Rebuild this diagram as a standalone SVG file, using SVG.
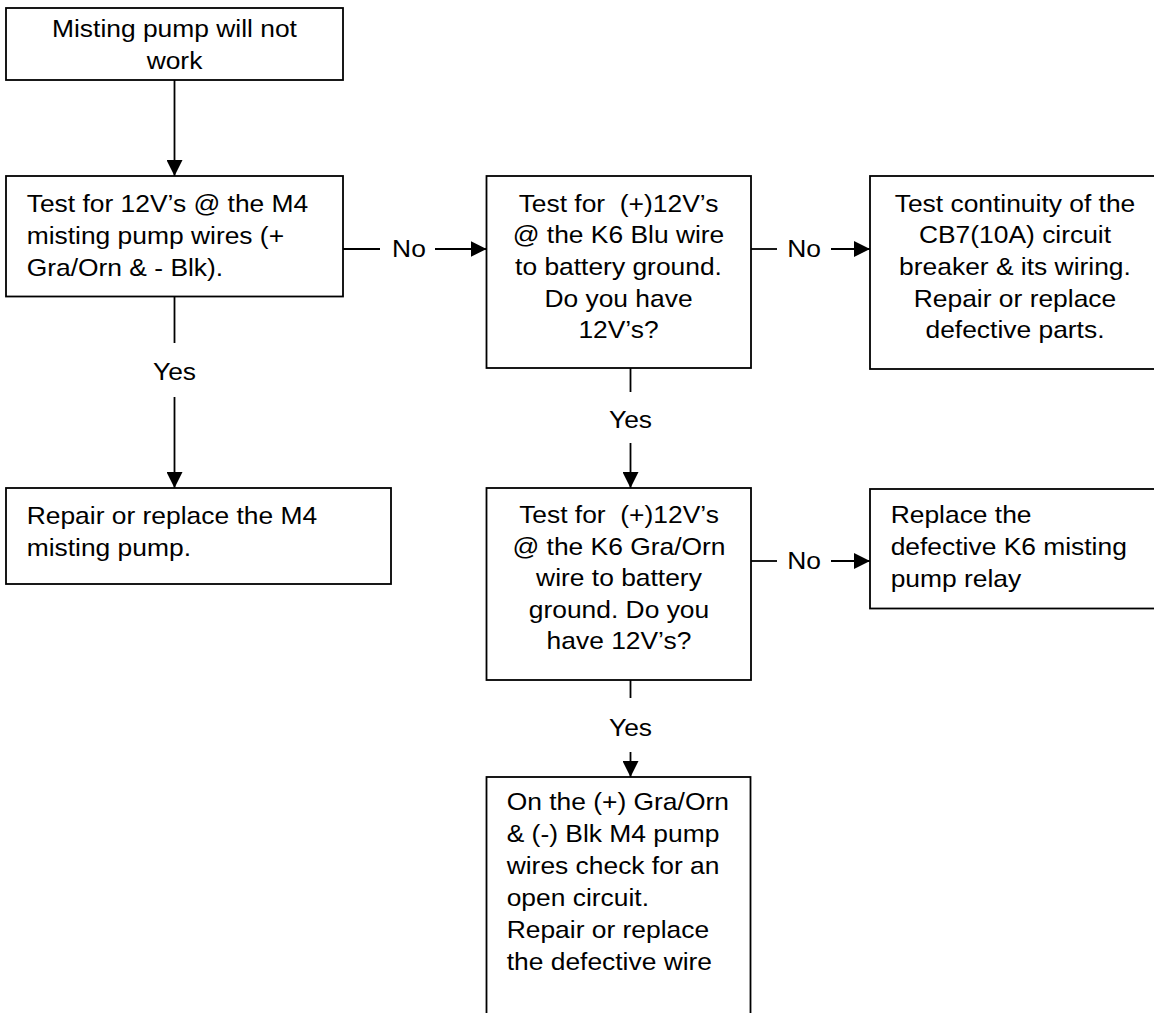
<svg xmlns="http://www.w3.org/2000/svg" width="1154" height="1013" viewBox="0 0 1154 1013">
<defs>
<marker id="arr" viewBox="0 0 16 16" refX="16" refY="8" markerWidth="16" markerHeight="16" markerUnits="userSpaceOnUse" orient="auto">
<path d="M0,0 L16,8 L0,16 Z" fill="#000"/>
</marker>
<style>
.box{fill:#fff;stroke:#000;stroke-width:1.8}
.ln{fill:none;stroke:#000;stroke-width:1.8}
text{font-family:"Liberation Sans",Arial,sans-serif;font-size:24px;fill:#000}
.c{text-anchor:middle}
</style>
</defs>
<rect width="1154" height="1013" fill="#fff"/>
<g id="connectors">
<line class="ln" x1="174.5" y1="80" x2="174.5" y2="176" marker-end="url(#arr)"/>
<line class="ln" x1="343" y1="249" x2="380" y2="249"/>
<line class="ln" x1="435" y1="249" x2="486.5" y2="249" marker-end="url(#arr)"/>
<text class="c" x="409" y="257.5" transform="matrix(1.1 0 0 1 -40.9 0)">No</text>
<line class="ln" x1="751" y1="249" x2="777" y2="249"/>
<line class="ln" x1="831" y1="249" x2="870" y2="249" marker-end="url(#arr)"/>
<text class="c" x="804" y="257.5" transform="matrix(1.1 0 0 1 -80.4 0)">No</text>
<line class="ln" x1="174.5" y1="296.5" x2="174.5" y2="343"/>
<text class="c" x="174.5" y="380" transform="matrix(1.1 0 0 1 -17.45 0)">Yes</text>
<line class="ln" x1="174.5" y1="397" x2="174.5" y2="488" marker-end="url(#arr)"/>
<line class="ln" x1="630.5" y1="368" x2="630.5" y2="392"/>
<text class="c" x="630.5" y="428" transform="matrix(1.1 0 0 1 -63.05 0)">Yes</text>
<line class="ln" x1="630.5" y1="443" x2="630.5" y2="488" marker-end="url(#arr)"/>
<line class="ln" x1="751" y1="561" x2="777" y2="561"/>
<line class="ln" x1="831" y1="561" x2="870" y2="561" marker-end="url(#arr)"/>
<text class="c" x="804" y="569.5" transform="matrix(1.1 0 0 1 -80.4 0)">No</text>
<line class="ln" x1="630.5" y1="680" x2="630.5" y2="698"/>
<text class="c" x="630.5" y="736" transform="matrix(1.1 0 0 1 -63.05 0)">Yes</text>
<line class="ln" x1="630.5" y1="752" x2="630.5" y2="777" marker-end="url(#arr)"/>
</g>
<g id="n1">
<rect class="box" x="6" y="8" width="337" height="72"/>
<text class="c" x="174.5" transform="matrix(1.1 0 0 1 -17.45 0)"><tspan x="174.5" y="37.5">Misting pump will not</tspan><tspan x="174.5" y="69.5">work</tspan></text>
</g>
<g id="n2">
<rect class="box" x="6" y="176" width="337" height="120.5"/>
<text x="26.7" transform="matrix(1.1 0 0 1 -2.67 0)"><tspan x="26.7" y="212.5">Test for 12V’s @ the M4</tspan><tspan x="26.7" y="244.3">misting pump wires (+</tspan><tspan x="26.7" y="276">Gra/Orn &amp; - Blk).</tspan></text>
</g>
<g id="n3">
<rect class="box" x="486.5" y="176" width="264.5" height="192"/>
<text class="c" x="618.5" transform="matrix(1.1 0 0 1 -61.85 0)"><tspan x="618.5" y="211.7">Test for&#160; (+)12V’s</tspan><tspan x="618.5" y="243.3">@ the K6 Blu wire</tspan><tspan x="618.5" y="275">to battery ground.</tspan><tspan x="618.5" y="306.7">Do you have</tspan><tspan x="618.5" y="338.3">12V’s?</tspan></text>
</g>
<g id="n4">
<rect class="box" x="870" y="176" width="300" height="193"/>
<text class="c" x="1015" transform="matrix(1.1 0 0 1 -101.5 0)"><tspan x="1015" y="211.7">Test continuity of the</tspan><tspan x="1015" y="243.3">CB7(10A) circuit</tspan><tspan x="1015" y="275">breaker &amp; its wiring.</tspan><tspan x="1015" y="306.7">Repair or replace</tspan><tspan x="1015" y="338.3">defective parts.</tspan></text>
</g>
<g id="n5">
<rect class="box" x="6" y="488" width="385" height="96"/>
<text x="26.7" transform="matrix(1.1 0 0 1 -2.67 0)"><tspan x="26.7" y="524">Repair or replace the M4</tspan><tspan x="26.7" y="556">misting pump.</tspan></text>
</g>
<g id="n6">
<rect class="box" x="486.5" y="488" width="264.5" height="192"/>
<text class="c" x="619" transform="matrix(1.1 0 0 1 -61.9 0)"><tspan x="619" y="523.5">Test for&#160; (+)12V’s</tspan><tspan x="619" y="555">@ the K6 Gra/Orn</tspan><tspan x="619" y="586.5">wire to battery</tspan><tspan x="619" y="618">ground. Do you</tspan><tspan x="619" y="649.5">have 12V’s?</tspan></text>
</g>
<g id="n7">
<rect class="box" x="870" y="489" width="300" height="119.5"/>
<text x="890.7" transform="matrix(1.1 0 0 1 -89.07 0)"><tspan x="890.7" y="523.3">Replace the</tspan><tspan x="890.7" y="555">defective K6 misting</tspan><tspan x="890.7" y="586.7">pump relay</tspan></text>
</g>
<g id="n8">
<rect class="box" x="486.5" y="777" width="264" height="260"/>
<text x="506.7" transform="matrix(1.1 0 0 1 -50.67 0)"><tspan x="506.7" y="810">On the (+) Gra/Orn</tspan><tspan x="506.7" y="842">&amp; (-) Blk M4 pump</tspan><tspan x="506.7" y="874">wires check for an</tspan><tspan x="506.7" y="906">open circuit.</tspan><tspan x="506.7" y="938">Repair or replace</tspan><tspan x="506.7" y="970">the defective wire</tspan></text>
</g>
</svg>
